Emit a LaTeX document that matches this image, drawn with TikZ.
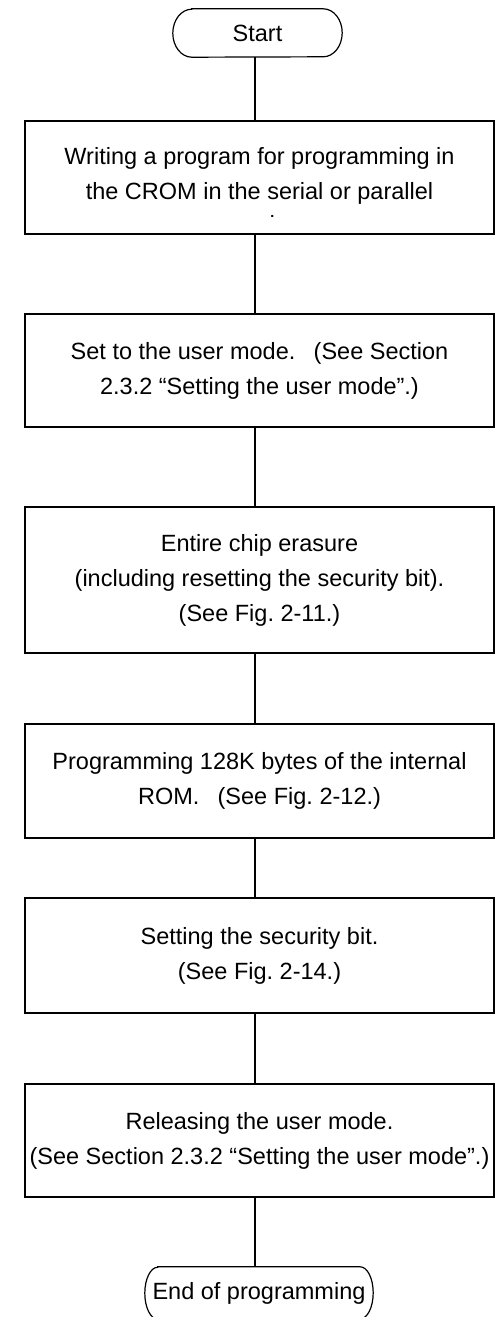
\documentclass[tikz,border=0pt]{standalone}
\usepackage{fontspec}
\setmainfont{Liberation Sans}
\usetikzlibrary{calc}
\frenchspacing
\begin{document}
\begin{tikzpicture}[x=1pt,y=1pt,
  line/.style={line width=1.2pt, draw=black},
  bodyfont/.style={font=\fontsize{23.5}{35}\selectfont},
  stepbox/.style={line, rectangle, minimum width=469pt, inner sep=0pt, align=center, bodyfont},
  steptext/.style={inner sep=0pt, align=center, bodyfont},
  term/.style={rectangle, inner sep=0pt, bodyfont},
  flow/.style={line}]
\useasboundingbox (0,0) rectangle (495,-1317);
% vertical axis that all connectors follow
\coordinate (axis) at (255,0);

% start terminal
\node[term, minimum width=169, minimum height=48] (start) at (257.5,-33) {Start};
\draw[line] ([xshift=19]start.north west) -- ([xshift=-19]start.north east)
  arc[start angle=90, end angle=-90, x radius=19, y radius=24]
  -- ([xshift=19]start.south west)
  arc[start angle=270, end angle=90, x radius=19, y radius=24] -- cycle;

% step 1: its last line runs past the box and is cut off
\node[stepbox, minimum height=113] (b1) at (259.5,-177.5) {};
\node[steptext] (t1) at (259.5,-175.5) {Writing a program for programming in\\the CROM in the serial or parallel};
\begin{scope}
  \clip (25,-121) rectangle (494,-216.5);
  \node[steptext, anchor=base] (t1c) at (262,-232) {mode.};
\end{scope}

% step 2
\node[stepbox, minimum height=113] (b2) at (259.5,-370.5)
  {Set to the user mode.\hspace{0.5em} (See Section\\2.3.2 “Setting the user mode”.)};

% step 3
\node[stepbox, minimum height=146] (b3) at (259.5,-580)
  {Entire chip erasure\\(including resetting the security bit).\\(See Fig. 2-11.)};

% step 4
\node[stepbox, minimum height=114] (b4) at (259.5,-781)
  {Programming 128K bytes of the internal\\ROM.\hspace{0.5em} (See Fig. 2-12.)};

% step 5
\node[stepbox, minimum height=115] (b5) at (259.5,-955.5)
  {Setting the security bit.\\(See Fig. 2-14.)};

% step 6
\node[stepbox, minimum height=113] (b6) at (259.5,-1140.5)
  {Releasing the user mode.\\(See Section 2.3.2 “Setting the user mode”.)};

% end terminal, partly below the lower edge
\node[term, minimum width=228, minimum height=52] (end) at (259,-1293) {End of programming};
\draw[line] ([xshift=13]end.north west) -- ([xshift=-13]end.north east)
  arc[start angle=90, end angle=-90, x radius=13, y radius=26]
  -- ([xshift=13]end.south west)
  arc[start angle=270, end angle=90, x radius=13, y radius=26] -- cycle;

% connectors
\draw[flow] (axis |- start.south) -- (axis |- b1.north);
\draw[flow] (axis |- b1.south) -- (axis |- b2.north);
\draw[flow] (axis |- b2.south) -- (axis |- b3.north);
\draw[flow] (axis |- b3.south) -- (axis |- b4.north);
\draw[flow] (axis |- b4.south) -- (axis |- b5.north);
\draw[flow] (axis |- b5.south) -- (axis |- b6.north);
\draw[flow] (axis |- b6.south) -- (axis |- end.north);
\end{tikzpicture}
\end{document}
